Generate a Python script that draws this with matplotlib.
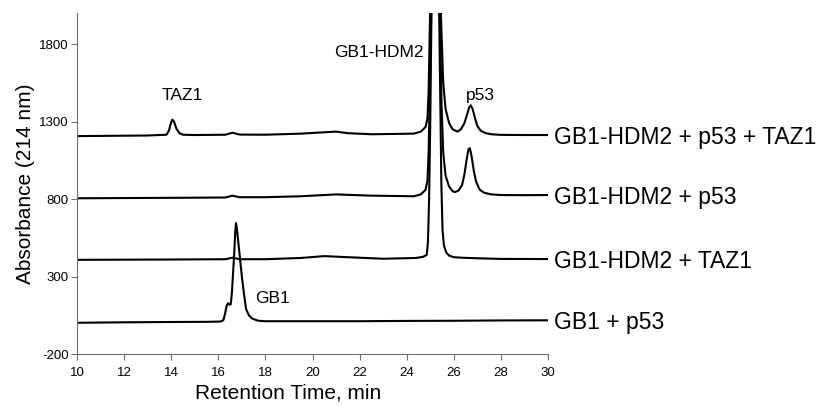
import matplotlib.pyplot as plt

plt.rcParams['font.family'] = ['Liberation Sans', 'DejaVu Sans']
plt.rcParams['axes.unicode_minus'] = False

# ── Data (retention time, absorbance) ────────────────────────────────────────
t_gb1_p53 = [10, 12, 14, 15.5, 16.1, 16.22, 16.3, 16.36, 16.42, 16.48, 16.53, 16.58, 16.63,
             16.68, 16.72, 16.75, 16.79, 16.85, 16.92, 17.0, 17.08, 17.18, 17.3, 17.45, 17.7,
             18, 20, 22, 24, 26, 28, 30]
a_gb1_p53 = [2, 5, 7, 8, 10, 20, 70, 115, 128, 118, 122, 200, 330,
             460, 590, 645, 610, 520, 420, 300, 200, 90, 50, 28, 15,
             12, 12, 12, 14, 15, 17, 18]

t_hdm2_taz1 = [10, 14, 16.3, 16.6, 16.9, 18, 19.5, 20.5, 21.5, 23, 24.4, 24.7, 24.85, 24.9,
               24.95, 25.0, 25.05, 25.15, 25.25, 25.35, 25.42, 25.47, 25.52, 25.58, 25.68, 25.8,
               26.0, 26.3, 27, 28, 30]
a_hdm2_taz1 = [408, 410, 412, 422, 412, 412, 420, 432, 425, 415, 420, 428, 440, 520,
               800, 1300, 2000, 2600, 2700, 2300, 1500, 900, 600, 500, 455, 435,
               425, 422, 418, 414, 413]

t_hdm2_p53 = [10, 14, 16.3, 16.6, 16.9, 18, 19.5, 21, 22.5, 24.3, 24.6, 24.8, 24.88, 24.93,
              24.98, 25.05, 25.15, 25.25, 25.35, 25.42, 25.48, 25.55, 25.65, 25.8, 25.95, 26.05,
              26.2, 26.35, 26.45, 26.55, 26.62, 26.68, 26.75, 26.85, 26.95, 27.1, 27.3, 27.6,
              28, 29, 30]
a_hdm2_p53 = [805, 808, 810, 822, 812, 812, 818, 830, 822, 818, 830, 860, 920, 1100,
              1500, 2100, 2700, 2800, 2500, 1900, 1400, 1100, 950, 880, 850, 845,
              855, 890, 960, 1060, 1120, 1128, 1080, 980, 910, 860, 840, 830,
              826, 825, 826]

t_all = [10, 13, 13.8, 13.9, 14.0, 14.05, 14.12, 14.22, 14.35, 14.5, 15, 16.3, 16.6, 16.9,
         18, 19.5, 21, 21.5, 22.5, 24.3, 24.6, 24.8, 24.88, 24.93, 24.98, 25.05, 25.2, 25.3,
         25.4, 25.47, 25.55, 25.65, 25.8, 25.95, 26.15, 26.3, 26.45, 26.55, 26.65, 26.72,
         26.8, 26.9, 27.0, 27.15, 27.35, 27.6, 28, 29, 30]
a_all = [1206, 1210, 1215, 1240, 1295, 1312, 1300, 1255, 1225, 1215, 1213, 1215, 1228, 1216,
         1215, 1222, 1235, 1225, 1218, 1222, 1235, 1265, 1320, 1500, 1900, 2400, 3000, 2900,
         2300, 1900, 1550, 1380, 1290, 1250, 1235, 1250, 1290, 1340, 1390, 1405,
         1380, 1320, 1270, 1240, 1225, 1218, 1214, 1213, 1213]

TRACES = [(t_gb1_p53, a_gb1_p53, 'GB1 + p53'),
          (t_hdm2_taz1, a_hdm2_taz1, 'GB1-HDM2 + TAZ1'),
          (t_hdm2_p53, a_hdm2_p53, 'GB1-HDM2 + p53'),
          (t_all, a_all, 'GB1-HDM2 + p53 + TAZ1')]

PEAKS = [('TAZ1', 14.48, 1471), ('GB1', 18.3, 161), ('GB1-HDM2', 22.8, 1748), ('p53', 27.15, 1471)]

# ── Plot ──────────────────────────────────────────────────────────────────────
fig = plt.figure(figsize=(8.25, 4.07), dpi=100)
ax = fig.add_axes([0.0933, 0.130, 0.571, 0.838])

for t, a, name in TRACES:
    ax.plot(t, a, color='black', lw=1.5, solid_joinstyle='round')
    ax.text(30.25, a[-1], name, fontsize=16.5, va='center_baseline', ha='left', clip_on=False)

for name, x, y in PEAKS:
    ax.text(x, y, name, fontsize=12.5, ha='center', va='center')

ax.set_xlim(10, 30); ax.set_ylim(-200, 2000)
ax.set_xticks(range(10, 31, 2)); ax.set_yticks([-200, 300, 800, 1300, 1800])
for s in ['top', 'right']:
    ax.spines[s].set_visible(False)
for s in ['left', 'bottom']:
    ax.spines[s].set_color('#707070'); ax.spines[s].set_linewidth(0.8)
ax.tick_params(axis='both', labelsize=9.5, length=4, color='#707070', width=0.8)
ax.tick_params(axis='x', pad=5); ax.tick_params(axis='y', pad=2)

ax.set_xlabel('Retention Time, min', fontsize=15)
ax.set_ylabel('Absorbance (214 nm)', fontsize=15)
ax.xaxis.set_label_coords(0.448, -0.114)
ax.yaxis.set_label_coords(-0.110, 0.5)
ax.xaxis.label.set_va('center'); ax.yaxis.label.set_va('center')

plt.savefig('out.png', dpi=100)
